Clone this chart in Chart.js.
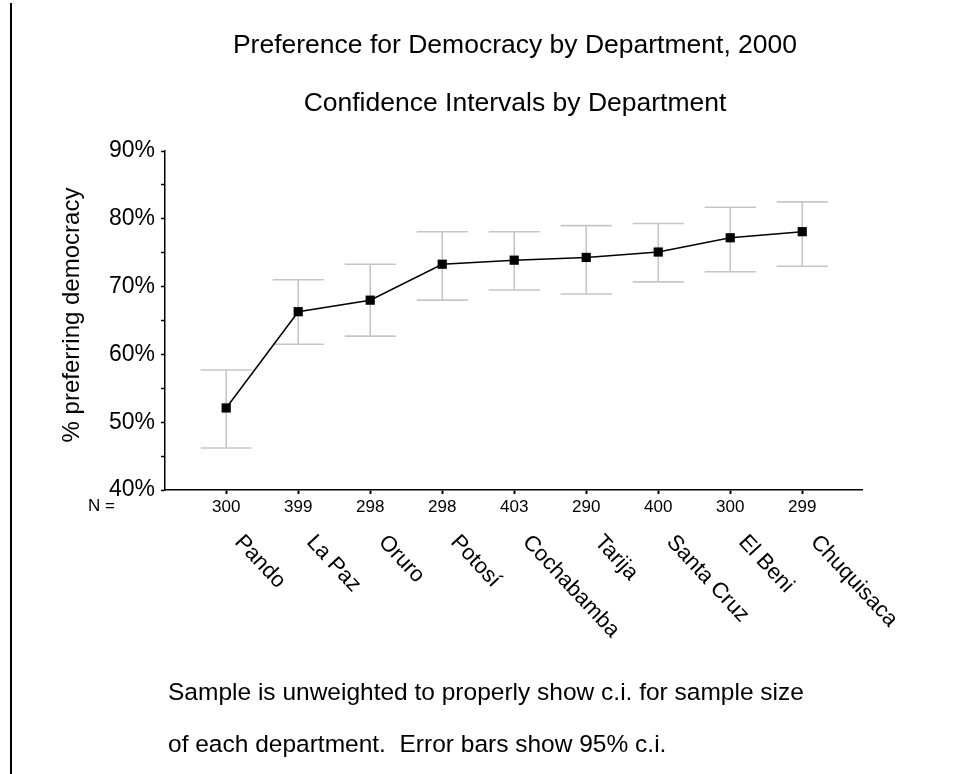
<!DOCTYPE html>
<html>
<head>
<meta charset="utf-8">
<script src="https://cdn.jsdelivr.net/npm/chart.js@4.4.1/dist/chart.umd.min.js"></script>
<style>
  html, body { margin: 0; padding: 0; background: #fff; }
  #wrap { position: relative; width: 974px; height: 774px; }
</style>
</head>
<body>
<div id="wrap"><canvas id="ci-chart" width="974" height="774"></canvas></div>
<script>
// values
const departments = ['Pando', 'La Paz', 'Oruro', 'Potosí', 'Cochabamba', 'Tarija', 'Santa Cruz', 'El Beni', 'Chuquisaca'];
const sampleN = [300, 399, 298, 298, 403, 290, 400, 300, 299];
const pctDemocracy = [52.1, 66.3, 68.0, 73.3, 73.9, 74.3, 75.1, 77.2, 78.1];
const ciLower = [46.2, 61.5, 62.7, 68.0, 69.5, 68.9, 70.7, 72.2, 73.0];
const ciUpper = [57.7, 71.0, 73.3, 78.1, 78.1, 79.0, 79.3, 81.7, 82.5];
const yTickValues = [40, 50, 60, 70, 80, 90];

const FONT = '"Liberation Sans", Arial, sans-serif';
const capHalf = 0.355; // error bar cap half width, in category units

const points = pctDemocracy.map((v, i) => ({ x: i, y: v }));

// gray 95% c.i. bars behind the line
const errorBars = {
    id: 'errorBars',
    beforeDatasetsDraw(chart) {
        const { ctx, scales: { x, y } } = chart;
        ctx.save();
        ctx.strokeStyle = '#c6c6c6';
        ctx.lineWidth = 1.6;
        departments.forEach((d, i) => {
            const cx = x.getPixelForValue(i);
            const l = x.getPixelForValue(i - capHalf);
            const r = x.getPixelForValue(i + capHalf);
            const top = y.getPixelForValue(ciUpper[i]);
            const bot = y.getPixelForValue(ciLower[i]);
            ctx.beginPath();
            ctx.moveTo(cx, top); ctx.lineTo(cx, bot);
            ctx.moveTo(l, top); ctx.lineTo(r, top);
            ctx.moveTo(l, bot); ctx.lineTo(r, bot);
            ctx.stroke();
        });
        ctx.restore();
    }
};

// titles, axis title, department names, footnote
const chartText = {
    id: 'chartText',
    afterDraw(chart) {
        const { ctx, scales: { x } } = chart;
        ctx.save();
        ctx.fillStyle = '#000';

        // frame line on the left
        ctx.fillRect(10, 3, 2, 771);

        ctx.textAlign = 'center';
        ctx.textBaseline = 'middle';
        ctx.font = '26.5px ' + FONT;
        ctx.fillText('Preference for Democracy by Department, 2000', 515, 46);
        ctx.fillText('Confidence Intervals by Department', 515, 104);

        ctx.save();
        ctx.translate(72, 315);
        ctx.rotate(-Math.PI / 2);
        ctx.font = '24px ' + FONT;
        ctx.fillText('% preferring democracy', 0, 0);
        ctx.restore();

        ctx.font = '17px ' + FONT;
        ctx.textAlign = 'left';
        ctx.fillText('N =', 88, 506);

        ctx.font = '22px ' + FONT;
        ctx.textBaseline = 'top';
        departments.forEach((d, i) => {
            ctx.save();
            ctx.translate(x.getPixelForValue(i) + 20, 531);
            ctx.rotate(47 * Math.PI / 180);
            ctx.fillText(d, 0, 0);
            ctx.restore();
        });

        ctx.textBaseline = 'middle';
        ctx.font = '24.5px ' + FONT;
        ctx.fillText('Sample is unweighted to properly show c.i. for sample size', 168, 693);
        ctx.fillText('of each department.  Error bars show 95% c.i.', 168, 745);
        ctx.restore();
    }
};

new Chart(document.getElementById('ci-chart'), {
    type: 'scatter',
    data: {
        datasets: [{
            data: points,
            showLine: true,
            borderColor: '#000',
            borderWidth: 1.5,
            backgroundColor: '#000',
            pointStyle: 'rect',
            pointRadius: 6.5,
            pointHoverRadius: 6.5,
            pointBorderWidth: 0
        }]
    },
    options: {
        responsive: false,
        animation: false,
        events: [],
        layout: { padding: { top: 151, left: 0, right: 112, bottom: 244 } },
        plugins: {
            legend: { display: false },
            tooltip: { enabled: false },
            title: { display: false }
        },
        scales: {
            x: {
                type: 'linear',
                min: -0.85,
                max: 8.83,
                afterBuildTicks: (scale) => {
                    scale.ticks = departments.map((d, i) => ({ value: i }));
                },
                afterFit: (scale) => { scale.height = 40; },
                ticks: {
                    callback: (v) => sampleN[v],
                    autoSkip: false,
                    maxRotation: 0,
                    padding: 3,
                    color: '#000',
                    font: { family: FONT, size: 17 }
                },
                grid: { drawOnChartArea: false, tickLength: 4, tickWidth: 2, tickColor: '#000' },
                border: { color: '#000', width: 1.5 }
            },
            y: {
                min: 40,
                max: 90,
                afterBuildTicks: (scale) => {
                    const t = [];
                    for (let v = 40; v <= 90; v += 5) t.push({ value: v });
                    scale.ticks = t;
                },
                afterFit: (scale) => { scale.width = 165; },
                ticks: {
                    callback: (v) => yTickValues.includes(v) ? v + '%' : '',
                    padding: 6,
                    color: '#000',
                    font: { family: FONT, size: 23 }
                },
                grid: { drawOnChartArea: false, tickLength: 4, tickWidth: 1.5, tickColor: '#000' },
                border: { color: '#000', width: 1.5 }
            }
        }
    },
    plugins: [errorBars, chartText]
});
</script>
</body>
</html>
